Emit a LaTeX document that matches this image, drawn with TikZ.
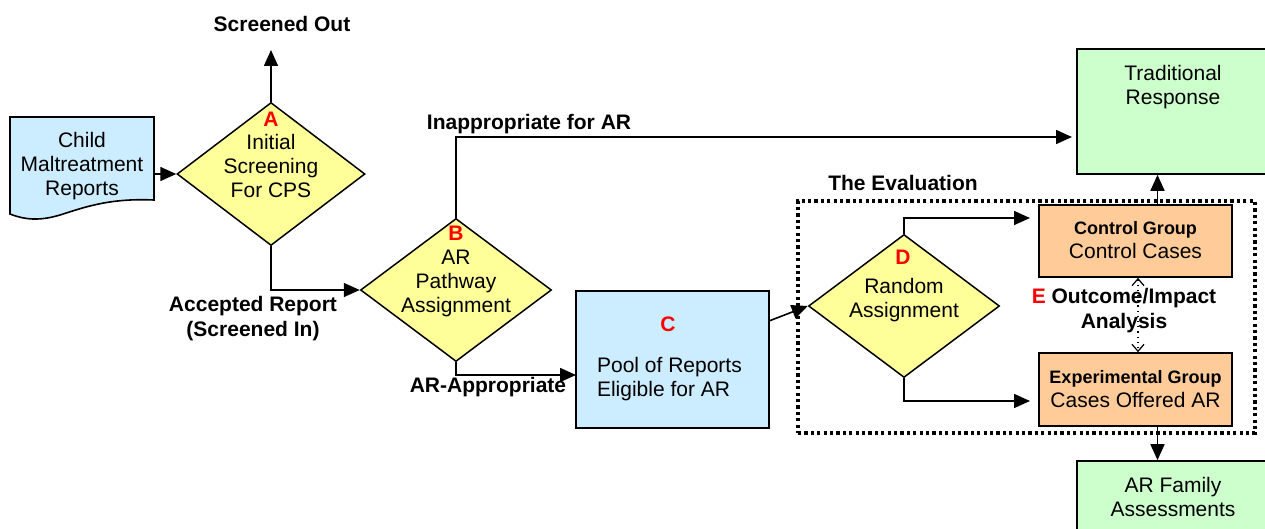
\documentclass[tikz,border=0pt]{standalone}
\usepackage{fontspec}
\setmainfont{Liberation Sans}
\usetikzlibrary{shapes.geometric,arrows.meta}
\definecolor{repblue}{HTML}{CCECFF}
\definecolor{decyellow}{HTML}{FFFF99}
\definecolor{grporange}{HTML}{FFCC99}
\definecolor{outgreen}{HTML}{CCFFCC}

\begin{document}
\begin{tikzpicture}[x=0.5pt,y=-0.5pt]
\tikzstyle{decision}=[diamond,draw,fill=decyellow,line width=0.75pt,inner sep=0pt,minimum width=94pt,minimum height=71.5pt]
\tikzstyle{box}=[rectangle,draw,line width=0.8pt,inner sep=0pt]
\tikzstyle{txt}=[align=center,font=\fontsize{10.5}{12}\selectfont]
\tikzstyle{lbl}=[align=center,font=\fontsize{10.5}{12.5}\selectfont\bfseries]
\tikzstyle{letter}=[text=red,font=\fontsize{10.5}{12}\selectfont\bfseries]
\tikzstyle{arr}=[line width=0.8pt,-{Triangle[length=8pt,width=7pt]}]
\useasboundingbox (0,0) rectangle (1265,529);
% reports document
\draw[fill=repblue,line width=0.8pt] (10,117) -- (154,117) -- (154,200)
  .. controls (110,198) and (85,207) .. (60,215)
  .. controls (40,221) and (25,220) .. (10,214) -- cycle;
\node [txt] (doc) at (82,166) {Child\\Maltreatment\\Reports};
\coordinate (doc-out) at (154,174);
% decisions
\node [decision] (A) at (271,174) {};
\node [letter] (A-l) at (271,119) {A};
\node [txt] (A-t) at (271,166) {Initial\\Screening\\For CPS};
\node [decision,minimum width=95.5pt] (B) at (456,290) {};
\node [letter] (B-l) at (456,233) {B};
\node [txt] (B-t) at (456,283) {AR\\Pathway\\Assignment};
% pool
\node [box,fill=repblue,minimum width=96.5pt,minimum height=68.5pt] (C) at (672.5,359.5) {};
\node [letter] (C-l) at (668,324) {C};
\node [txt,align=left,anchor=west] (C-t) at (590,379) {Pool of Reports\\Eligible for AR};
% evaluation
\node [draw,line width=1.6pt,dash pattern=on 1.6pt off 1.6pt,minimum width=228.5pt,minimum height=116pt] (eval) at (1026.5,317) {};
\node [lbl] (eval-l) at (903,183) {The Evaluation};
\node [decision,minimum width=95.5pt] (D) at (904,306) {};
\node [letter] (D-l) at (903,257) {D};
\node [txt] (D-t) at (904,300) {Random\\Assignment};
\node [box,fill=grporange,minimum width=96.5pt,minimum height=36pt] (ctrl) at (1135.5,241) {};
\node [txt] (ctrl-t) at (1135.5,240) {{\fontsize{9}{11}\selectfont\bfseries Control Group}\\Control Cases};
\node [box,fill=grporange,minimum width=96.5pt,minimum height=36.5pt] (exp) at (1135.5,389.5) {};
\node [txt] (exp-t) at (1135.5,389) {{\fontsize{9}{11}\selectfont\bfseries Experimental Group}\\Cases Offered AR};
\node [lbl] (E) at (1124,311) {\textcolor{red}{E} Outcome/Impact\\Analysis};
% outcomes
\node [box,fill=outgreen,minimum width=96.5pt,minimum height=62.5pt] (TR) at (1173.5,111.5) {};
\node [txt] (TR-t) at (1173,87) {Traditional\\Response};
\node [box,fill=outgreen,minimum width=96.5pt,minimum height=50pt] (AF) at (1173.5,511) {};
\node [txt] (AF-t) at (1173,497) {AR Family\\Assessments};
% labels
\node [lbl] (so) at (282,24) {Screened Out};
\node [lbl] (acc) at (253,319) {Accepted Report\\(Screened In)};
\node [lbl] (inapp) at (529,124) {Inappropriate for AR};
\node [lbl] (appr) at (488,387) {AR-Appropriate};
% arrows
\coordinate (so-end) at (271,50);
\coordinate (tr-in) at (1072,137);
\coordinate (c-in) at (576,375);
\coordinate (c-out) at (769,321);
\coordinate (ctrl-in) at (1030,218);
\coordinate (exp-in) at (1030,401);
\draw [arr] (doc-out) -- (A.west);
\draw [arr] (A.north) -- (so-end);
\draw [arr] (A.south) |- (B.west);
\draw [arr] (B.north) |- (tr-in);
\draw [arr] (B.south) |- (c-in);
\draw [arr] (c-out) -- (D.west);
\draw [arr] (D.north) |- (ctrl-in);
\draw [arr] (D.south) |- (exp-in);
\draw [line width=0.6pt,dotted,{Straight Barb[length=3.5pt,width=6pt]}-{Straight Barb[length=3.5pt,width=6pt]}] ([xshift=1.25pt]ctrl.south) -- ([xshift=1.25pt]exp.north);
\draw [arr] ([xshift=11pt]ctrl.north) -- ([xshift=11pt]ctrl.north |- TR.south);
\draw [arr] ([xshift=11pt]exp.south) -- ([xshift=11pt]exp.south |- AF.north);
\end{tikzpicture}
\end{document}
